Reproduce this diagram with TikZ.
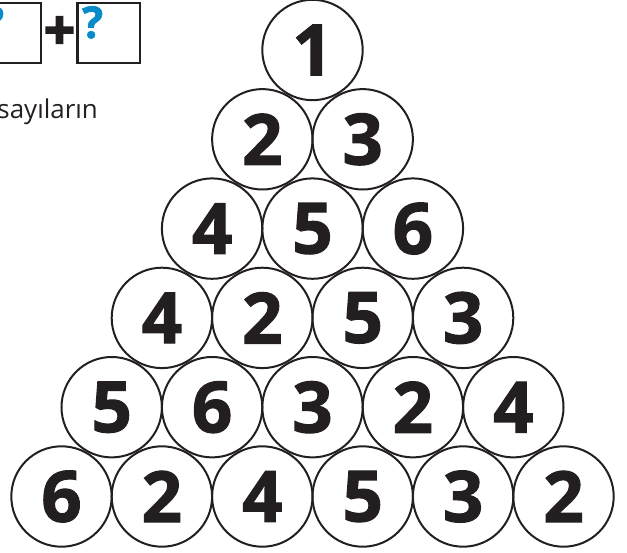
\documentclass[tikz,border=0pt]{standalone}
\usepackage{fontspec}
\setmainfont{Open Sans}
\definecolor{ink}{HTML}{231F20}
\definecolor{qblue}{HTML}{0A8BC9}
\newfontfamily\digitfont{Open Sans}[UprightFont=* Bold,FakeBold=1.6]
\newfontfamily\plusfont{Open Sans}[UprightFont=* Bold,FakeBold=3]
\tikzset{
  ball/.style={circle,draw=ink,line width=2bp,minimum size=100.4bp,inner sep=0pt,
    text=ink,font=\digitfont\fontsize{71}{71}\selectfont},
  qbox/.style={draw=ink,line width=2.6bp},
  qmark/.style={inner sep=0pt,text=qblue,font=\digitfont\fontsize{44}{44}\selectfont},
}
\begin{document}
\begin{tikzpicture}[x=1bp,y=-1bp]
\useasboundingbox (0,0) rectangle (627,553);
% top-left fragment
\draw[qbox] (-22,3) rectangle (41,63);
\draw[qbox] (77.5,3) rectangle (140,63);
\node[qmark,anchor=north west] (q1) at (-17,6) {?};
\node[qmark,anchor=north west] (q2) at (82,6) {?};
\node[inner sep=0pt,text=ink,font=\plusfont\fontsize{55}{55}\selectfont] (plus) at (59.5,33) {+};
\node[inner sep=0pt,anchor=base east,text=ink,font=\fontsize{26}{26}\selectfont] (say) at (98,119) {sayıların};
% pyramid
\foreach \row/\list in {0/{1},1/{2,3},2/{4,5,6},3/{4,2,5,3},4/{5,6,3,2,4},5/{6,2,4,5,3,2}}{
  \foreach \v [count=\i from 0] in \list {
    \node[ball] (c-\row-\i) at ({312.5+(\i-\row/2)*100.4},{50+\row*89.3}) {\v};
  }
}
\end{tikzpicture}
\end{document}
